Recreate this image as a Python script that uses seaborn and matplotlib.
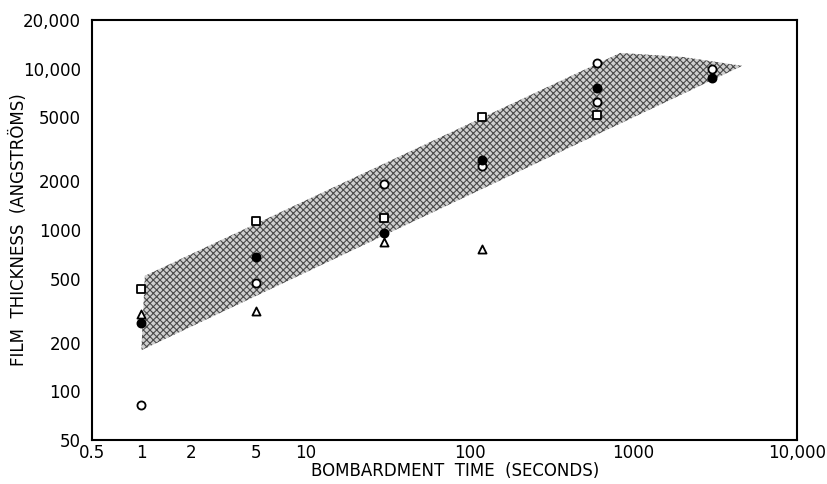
import matplotlib
matplotlib.use("Agg")
import matplotlib.pyplot as plt
import seaborn as sns
import pandas as pd

# ---- data ----
time_open_circle = [1, 5, 30, 120, 600, 600, 3000]
thick_open_circle = [82, 467, 1930, 2490, 10900, 6190, 9900]
time_filled_circle = [1, 5, 30, 120, 600, 3000]
thick_filled_circle = [267, 678, 955, 2700, 7600, 8790]
time_open_square = [1, 5, 30, 120, 600]
thick_open_square = [430, 1140, 1180, 5040, 5160]
time_open_triangle = [1, 5, 30, 120]
thick_open_triangle = [300, 316, 846, 763]

band_time = [1.0, 1.05, 830, 2000, 4600, 1.0]
band_thick = [180, 520, 12500, 11800, 10400, 180]

x_ticks = [0.5, 1, 2, 5, 10, 20, 50, 100, 200, 500, 1000, 2000, 5000, 10000]
x_labels = ["0.5", "1", "2", "5", "10", "", "", "100", "", "", "1000", "", "", "10,000"]
y_ticks = [50, 100, 200, 500, 1000, 2000, 5000, 10000, 20000]
y_labels = ["50", "100", "200", "500", "1000", "2000", "5000", "10,000", "20,000"]

frames = []
for name, xs, ys in [("open_circle", time_open_circle, thick_open_circle),
                     ("filled_circle", time_filled_circle, thick_filled_circle),
                     ("open_square", time_open_square, thick_open_square),
                     ("open_triangle", time_open_triangle, thick_open_triangle)]:
    frames.append(pd.DataFrame({"time": xs, "thickness": ys, "series": name}))
df = pd.concat(frames, ignore_index=True)

sns.set_theme(style="white")
plt.rcParams["font.family"] = ["DejaVu Sans"]
plt.rcParams["hatch.linewidth"] = 0.8

fig = plt.figure(figsize=(8.28, 4.84), dpi=100)
ax = fig.add_axes([92 / 828, 1 - 440 / 484, (797.5 - 92) / 828, (440 - 20) / 484])
ax.set_xscale("log")
ax.set_yscale("log")

# stippled band
ax.fill(band_time, band_thick, facecolor="#cfcfcf", edgecolor="#4a4a4a",
        linewidth=0, hatch="xxxxx", zorder=1)

styles = {
    "open_circle": dict(marker="o", facecolor="white"),
    "filled_circle": dict(marker="o", facecolor="black"),
    "open_square": dict(marker="s", facecolor="white"),
    "open_triangle": dict(marker="^", facecolor="white"),
}
for name, st in styles.items():
    sub = df[df["series"] == name]
    sns.scatterplot(data=sub, x="time", y="thickness", ax=ax, marker=st["marker"],
                    facecolor=st["facecolor"], edgecolor="black", linewidth=1.3,
                    s=34, zorder=3, legend=False)

ax.set_xlim(0.5, 10000)
ax.set_ylim(50, 20000)
ax.set_xticks(x_ticks)
ax.set_xticklabels(x_labels)
ax.set_yticks(y_ticks)
ax.set_yticklabels(y_labels)
ax.minorticks_off()
ax.tick_params(axis="both", direction="in", length=5, width=1.2, colors="black",
               labelsize=12)
ax.tick_params(axis="y", pad=8)
ax.tick_params(axis="x", pad=3)
for sp in ax.spines.values():
    sp.set_color("black")
    sp.set_linewidth(1.5)

ax.set_xlabel("BOMBARDMENT  TIME  (SECONDS)", fontsize=12, color="black", va="center")
ax.set_ylabel("FILM  THICKNESS  (ANGSTRÖMS)", fontsize=12, color="black", va="center")
ax.xaxis.set_label_coords((455 - 92) / 705.5, (440 - 471) / 420)
ax.yaxis.set_label_coords((19 - 92) / 705.5, (440 - 230) / 420)

fig.savefig("out.png", dpi=100)
